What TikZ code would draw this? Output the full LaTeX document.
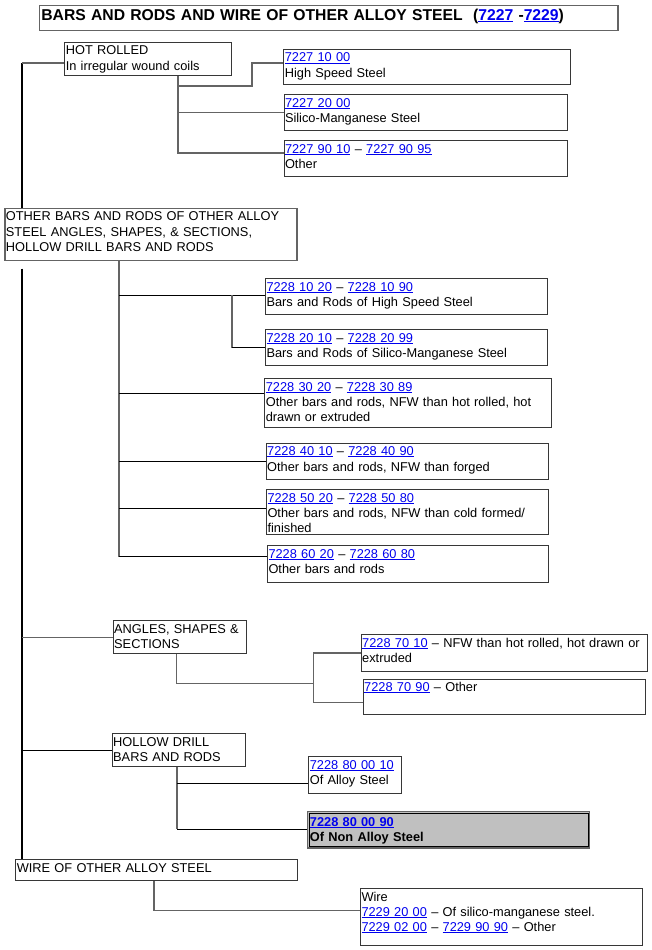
\documentclass[tikz,border=0pt]{standalone}
\usepackage{fontspec}
\setmainfont{Liberation Sans}
\definecolor{linkblue}{RGB}{0,0,238}
\definecolor{tiegray}{RGB}{100,100,100}
\definecolor{boxgray}{RGB}{55,55,55}
\definecolor{fillgray}{RGB}{192,192,192}
\newcommand{\hscode}[1]{\textcolor{linkblue}{\setbox0\hbox{#1}\rlap{\rule[-1.4pt]{\wd0}{0.8pt}}\box0}}

\begin{document}
\begin{tikzpicture}[x=1pt,y=-1pt,
    entry/.style 2 args={draw=boxgray, line width=1pt, anchor=north west, align=left,
      inner xsep=1pt, inner ysep=0.5pt, text height=12pt, text width=#1, text depth=#2,
      font=\fontsize{12.8}{15.3}\selectfont},
    heading/.style={draw=tiegray, line width=1.4pt, anchor=north west, align=left,
      inner xsep=2pt, inner ysep=0.5pt, text height=14.8pt, text depth=9.5pt,
      text width=574.6pt, font=\fontsize{15.7}{18}\selectfont\bfseries},
    spine/.style={black, line width=2.8pt},
    tie/.style={tiegray, line width=1.3pt},
    tiedark/.style={black, line width=1pt}]
  \useasboundingbox (0,0) rectangle (652,950);
  % headings and boxes
  \node[heading] (title) at (38.7,4.7) {BARS AND RODS AND WIRE OF OTHER ALLOY STEEL~ (\hscode{7227} -\hscode{7229})};
  \node[entry={164.4pt}{20.3pt}] (hot) at (64.3,42) {HOT ROLLED\\In irregular wound coils};
  \node[entry={284.7pt}{22pt}] (c1) at (283.3,49) {\hscode{7227 10 00}\\High Speed Steel};
  \node[entry={281.2pt}{22.7pt}] (c2) at (283.5,94) {\hscode{7227 20 00}\\Silico-Manganese Steel};
  \node[entry={281.2pt}{23pt}] (c3) at (283.5,140) {\hscode{7227 90 10} – \hscode{7227 90 95}\\Other};
  \node[entry={290pt}{39.3pt}, draw=tiegray, line width=1.3pt] (other) at (4.3,207.7)
    {OTHER BARS AND RODS OF OTHER ALLOY\\STEEL ANGLES, SHAPES, \& SECTIONS,\\HOLLOW DRILL BARS AND RODS};
  \node[entry={279.7pt}{23pt}] (d1) at (265,278.3) {\hscode{7228 10 20} – \hscode{7228 10 90}\\Bars and Rods of High Speed Steel};
  \node[entry={280pt}{23pt}] (d2) at (265,329.3) {\hscode{7228 20 10} – \hscode{7228 20 99}\\Bars and Rods of Silico-Manganese Steel};
  \node[entry={285pt}{36pt}] (d3) at (264.3,378.3) {\hscode{7228 30 20} – \hscode{7228 30 89}\\Other bars and rods, NFW than hot rolled, hot\\drawn or extruded};
  \node[entry={280pt}{23.3pt}] (d4) at (265.7,442.7) {\hscode{7228 40 10} – \hscode{7228 40 90}\\Other bars and rods, NFW than forged};
  \node[entry={279.7pt}{32pt}] (d5) at (266,489.3) {\hscode{7228 50 20} – \hscode{7228 50 80}\\Other bars and rods, NFW than cold formed/\\finished};
  \node[entry={279.3pt}{23.4pt}] (d6) at (267,545.3) {\hscode{7228 60 20} – \hscode{7228 60 80}\\Other bars and rods};
  \node[entry={131.3pt}{20.3pt}] (angles) at (112.7,620) {ANGLES, SHAPES \&\\SECTIONS};
  \node[entry={284.6pt}{23.4pt}] (g1) at (360.7,634.3) {\hscode{7228 70 10} – NFW than hot rolled, hot drawn or\\extruded};
  \node[entry={280pt}{22.6pt}] (g2) at (362.7,678.7) {\hscode{7228 70 90} – Other};
  \node[entry={131.6pt}{19.4pt}] (hollow) at (111.7,733.3) {HOLLOW DRILL\\BARS AND RODS};
  \node[entry={90.7pt}{24pt}] (h1) at (308.3,756.3) {\hscode{7228 80 00 10}\\Of Alloy Steel};
  \node[entry={277pt}{18.6pt}, draw=tiegray, line width=1.4pt, fill=fillgray,
    inner xsep=2.5pt, inner ysep=3pt, font=\fontsize{12.8}{15.3}\selectfont\bfseries] (h2) at (306.7,810.7)
    {\hscode{7228 80 00 90}\\Of Non Alloy Steel};
  \draw[black, line width=0.8pt] ([shift={(2.2,2.2)}]h2.north west) rectangle ([shift={(-2.2,-2.2)}]h2.south east);
  \node[entry={279.7pt}{7.7pt}] (wire) at (15.3,859.3) {WIRE OF OTHER ALLOY STEEL};
  \node[entry={279.7pt}{43.7pt}] (k) at (360,888) {Wire\\\hscode{7229 20 00} – Of silico-manganese steel.\\\hscode{7229 02 00} – \hscode{7229 90 90} – Other};
  % junction points
  \coordinate (s1) at (22,63);
  \coordinate (s2) at (22,268.7);
  \coordinate (t1) at (178,153);
  \coordinate (j1) at (252,86);
  \coordinate (t2) at (119,556.7);
  \coordinate (u2) at (232,295);
  \coordinate (b3) at (119,393.3);
  \coordinate (b5) at (119,508.3);
  \coordinate (t3) at (176.3,683.7);
  \coordinate (br) at (313.3,702.7);
  \coordinate (t4) at (177,829.3);
  \coordinate (b7) at (177,783);
  \coordinate (t5) at (154,910.7);
  % hot rolled
  \draw[spine] (s1) -- (s1 |- other.north);
  \draw[tie] (s1) -- (s1 -| hot.west);
  \draw[tie] (t1 |- hot.south) -- (t1) -- (t1 -| c3.west);
  \draw[tie] (j1 -| t1) -- (j1) |- (c1.west |- s1);
  \draw[tie] (t1 |- c2.west) -- (c2.west);
  % other bars and rods
  \draw[spine] (s2) -- (s2 |- wire.north);
  \draw[tie] (t2 |- other.south) -- (t2);
  \draw[tiedark] (u2 -| t2) -- (u2 -| d1.west);
  \draw[tie] (u2) -- (u2 |- d2.west);
  \draw[tiedark] (u2 |- d2.west) -- (d2.west);
  \draw[tiedark] (b3) -- (b3 -| d3.west);
  \draw[tiedark] (t2 |- d4.west) -- (d4.west);
  \draw[tiedark] (b5) -- (b5 -| d5.west);
  \draw[tiedark] (t2) -- (t2 -| d6.west);
  % angles, shapes and sections
  \draw[tie] (s2 |- angles.west) -- (angles.west);
  \draw[tie] (t3 |- angles.south) -- (t3) -- (t3 -| br);
  \draw[tie] (g1.west) -| (br) -- (br -| g2.west);
  % hollow drill bars and rods
  \draw[tiedark] (s2 |- hollow.west) -- (hollow.west);
  \draw[tie] (t4 |- hollow.south) -- (t4);
  \draw[tiedark] (b7) -- (b7 -| h1.west);
  \draw[tiedark] (t4) -- (t4 -| h2.west);
  % wire
  \draw[tie] (t5 |- wire.south) -- (t5) -- (t5 -| k.west);
\end{tikzpicture}
\end{document}
